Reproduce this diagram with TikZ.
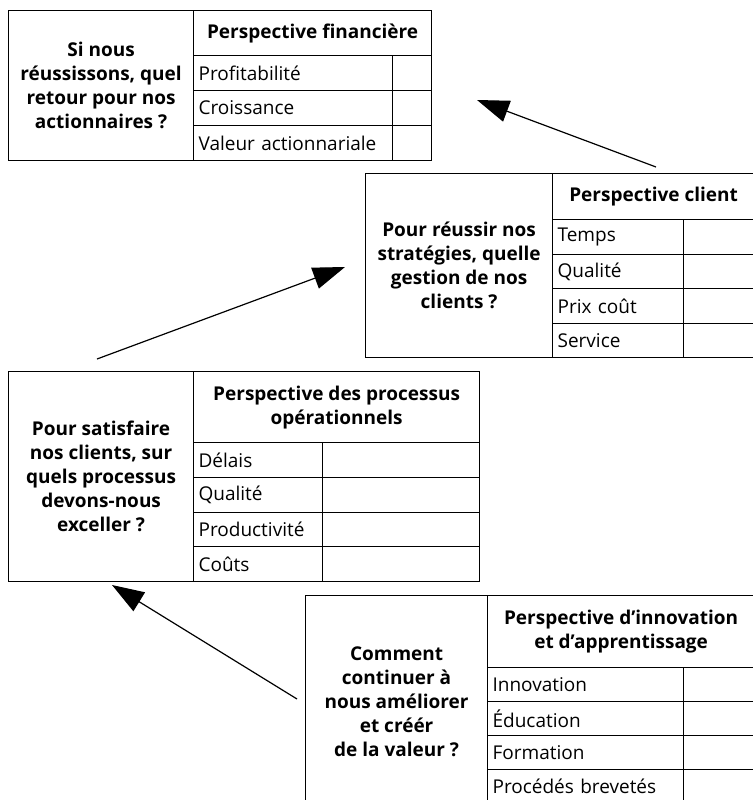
\documentclass[tikz,border=0pt]{standalone}
\usepackage{fontspec}
\setmainfont{Open Sans}
\usetikzlibrary{arrows.meta}

\newcommand\bodysize{\fontsize{19}{24}\selectfont}

\begin{document}
\begin{tikzpicture}[x=1pt,y=-1pt,line width=1.2pt,
    question/.style={draw,anchor=north west,align=center,inner sep=0pt,font=\bodysize\bfseries},
    header/.style={draw,anchor=north west,align=center,inner sep=0pt,font=\bodysize\bfseries},
    cell/.style={draw,anchor=north west,inner xsep=5pt,inner ysep=0pt,align=left,font=\bodysize},
    arr/.style={-{Triangle[length=32pt,width=22pt]}}]
    \useasboundingbox (0,0) rectangle (752,800);

    % perspective financiere
    \node[question,minimum width=185pt,minimum height=150pt] (finq) at (8,10)
        {Si nous\\réussissons, quel\\retour pour nos\\actionnaires ?};
    \node[header,minimum width=238pt,minimum height=45pt] (finh) at (193,10) {Perspective financière};
    \foreach \lbl [count=\i from 0] in {Profitabilité,Croissance,Valeur actionnariale} {
        \node[cell,text width=189pt,minimum height=35pt] (finl\i) at (193,55+35*\i) {\lbl};
        \node[cell,minimum width=39pt,minimum height=35pt] (finv\i) at (392,55+35*\i) {};
    }

    % perspective client
    \node[question,minimum width=187pt,minimum height=184pt] (cliq) at (365,173)
        {Pour réussir nos\\stratégies, quelle\\gestion de nos\\clients ?};
    \node[header,minimum width=202pt,minimum height=46pt] (clih) at (552,173) {Perspective client};
    \foreach \lbl [count=\i from 0] in {Temps,Qualité,Prix coût,Service} {
        \node[cell,text width=121pt,minimum height=34.5pt] (clil\i) at (552,219+34.5*\i) {\lbl};
        \node[cell,minimum width=71pt,minimum height=34.5pt] (cliv\i) at (683,219+34.5*\i) {};
    }

    % perspective des processus
    \node[question,minimum width=185pt,minimum height=210pt] (proq) at (8,371)
        {Pour satisfaire\\nos clients, sur\\quels processus\\devons-nous\\exceller ?};
    \node[header,minimum width=286pt,minimum height=71pt] (proh) at (193,371)
        {Perspective des processus\\opérationnels};
    \foreach \lbl [count=\i from 0] in {Délais,Qualité,Productivité,Coûts} {
        \node[cell,text width=119pt,minimum height=34.75pt] (prol\i) at (193,442+34.75*\i) {\lbl};
        \node[cell,minimum width=157pt,minimum height=34.75pt] (prov\i) at (322,442+34.75*\i) {};
    }

    % perspective d'innovation
    \node[question,minimum width=182pt,minimum height=212pt] (innq) at (305,595)
        {Comment\\continuer à\\nous améliorer\\et créér\\de la valeur ?};
    \node[header,minimum width=267pt,minimum height=72pt] (innh) at (487,595)
        {Perspective d’innovation\\et d’apprentissage};
    \foreach \lbl [count=\i from 0] in {Innovation,Éducation,Formation,Procédés brevetés} {
        \node[cell,text width=186pt,minimum height=34pt] (innl\i) at (487,667+34*\i) {\lbl};
        \node[cell,minimum width=71pt,minimum height=34pt] (innv\i) at (683,667+34*\i) {};
    }

    % arrows
    \coordinate (clis) at (656,167);
    \coordinate (fint) at (477,100);
    \coordinate (pros) at (97,359);
    \coordinate (clit) at (345,267);
    \coordinate (inns) at (297,699);
    \coordinate (prot) at (112,585);
    \draw[arr] (clis) -- (fint);
    \draw[arr] (pros) -- (clit);
    \draw[arr] (inns) -- (prot);
\end{tikzpicture}
\end{document}
